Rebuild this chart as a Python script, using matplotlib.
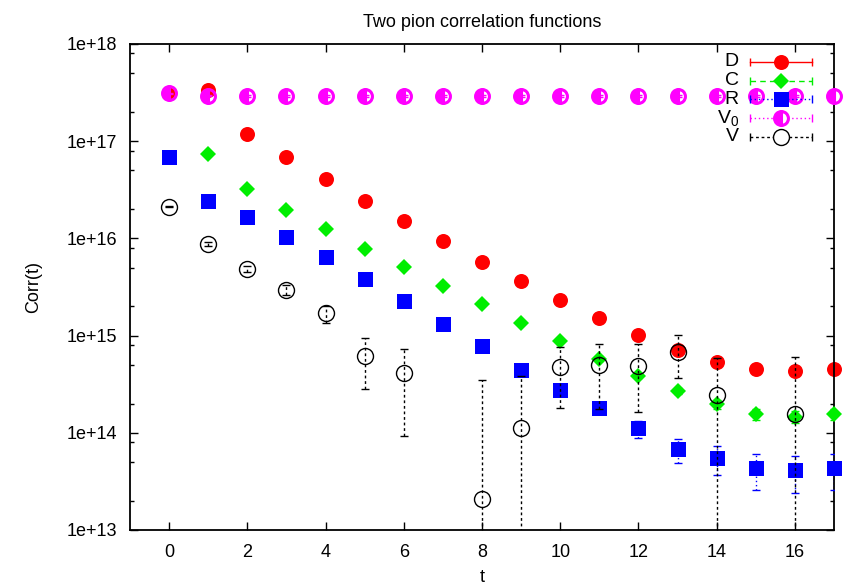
import numpy as np
import matplotlib
matplotlib.use('Agg')
import matplotlib.pyplot as plt

plt.rcParams['font.family'] = ['Liberation Sans', 'DejaVu Sans']
plt.rcParams['mathtext.fontset'] = 'custom'
plt.rcParams['mathtext.rm'] = 'Liberation Sans'
plt.rcParams['mathtext.it'] = 'Liberation Sans'
plt.rcParams['mathtext.default'] = 'regular'

# 数据
t = np.arange(18)

D = np.array([3.1e17, 3.4e17, 1.2e17, 6.8e16, 4.06e16, 2.44e16, 1.51e16, 9.4e15, 5.7e15,
              3.62e15, 2.31e15, 1.5e15, 1.02e15, 7.1e14, 5.4e14, 4.5e14, 4.3e14, 4.5e14])
D_err = np.array([2e15, 2e15, 1e15, 6e14, 4e14, 3e14, 2e14, 1.5e14, 1e14,
                  8e13, 6e13, 5e13, 4e13, 4e13, 3e13, 3e13, 3e13, 3e13])

C = np.array([np.nan, 7.3e16, 3.25e16, 1.96e16, 1.24e16, 7.8e15, 5.1e15, 3.26e15, 2.1e15,
              1.35e15, 8.9e14, 5.8e14, 3.87e14, 2.7e14, 1.96e14, 1.56e14, 1.47e14, 1.56e14])
C_err = np.array([0, 5e14, 3e14, 2e14, 1.5e14, 1e14, 8e13, 6e13, 5e13,
                  4e13, 3e13, 3e13, 2.5e13, 2e13, 2e13, 2e13, 2e13, 2e13])

R = np.array([6.8e16, 2.41e16, 1.65e16, 1.03e16, 6.4e15, 3.8e15, 2.25e15, 1.31e15, 7.9e14,
              4.4e14, 2.74e14, 1.79e14, 1.11e14, 6.8e13, 5.5e13, 4.3e13, 4.1e13, 4.3e13])
R_err = np.array([5e14, 3e14, 2e14, 1.5e14, 1e14, 8e13, 6e13, 4e13, 3e13,
                  2.5e13, 2.2e13, 2.2e13, 2.2e13, 1.9e13, 1.85e13, 1.7e13, 1.67e13, 1.7e13])

V0 = np.array([3.1e17, 2.94e17, 2.92e17, 2.92e17, 2.92e17, 2.92e17, 2.92e17, 2.92e17, 2.92e17,
               2.92e17, 2.92e17, 2.92e17, 2.92e17, 2.92e17, 2.92e17, 2.92e17, 2.92e17, 2.92e17])
V0_err = np.array([4e15, 4e15, 4e15, 4e15, 4e15, 4e15, 4e15, 4e15, 4e15,
                   4e15, 4e15, 4e15, 4e15, 4e15, 4e15, 4e15, 4e15, 4e15])

V = np.array([2.12e16, 8.76e15, 4.85e15, 2.95e15, 1.7e15, 6.2e14, 4.12e14, np.nan, 2.1e13,
              1.13e14, 4.75e14, 4.99e14, 4.9e14, 6.83e14, 2.45e14, np.nan, 1.56e14, np.nan])
V_err = np.array([3.3e14, 3.3e14, 3.3e14, 3.3e14, 3.4e14, 3.35e14, 3.2e14, 0, 3.28e14,
                  2.68e14, 2.93e14, 3.25e14, 3.28e14, 3.2e14, 3.4e14, 0, 4.5e14, 0])

labels = ['D', 'C', 'R', 'V$_0$', 'V']
ytick_vals = [1e13, 1e14, 1e15, 1e16, 1e17, 1e18]
ytick_labels = ['1e+13', '1e+14', '1e+15', '1e+16', '1e+17', '1e+18']

series = [
    # y, err, colour, linestyle, marker, size, face, edge width
    (D, D_err, 'red', '-', 'o', 10.8, 'full', 1.0),
    (C, C_err, '#00ee00', (0, (4, 3)), 'D', 8.2, 'full', 1.0),
    (R, R_err, 'blue', (0, (1, 2)), 's', 10.8, 'full', 1.0),
    (V0, V0_err, 'magenta', (0, (1, 2)), 'o', 10.0, 'left', 2.2),
    (V, V_err, 'black', (0, (2, 2)), 'o', 11.5, 'none', 1.0),
]

fig = plt.figure(figsize=(8.5, 5.86), dpi=100)
ax = fig.add_axes([130/850, 56/586, 704/850, 486/586])
ax.set_yscale('log', nonpositive='clip')

for i, (y, err, col, ls, mk, ms, fs, mew) in enumerate(series):
    z = 2 + i
    eb = ax.errorbar(t, y, yerr=err, fmt='none', ecolor=col, elinewidth=1.0,
                     capsize=3, capthick=1.0, zorder=z)
    for lc in eb[2]:
        lc.set_linestyle(ls)
    if fs == 'left':
        ax.plot(t, y, linestyle='none', marker=mk, markersize=ms, fillstyle='left',
                markerfacecolor=col, markerfacecoloralt='none', markeredgecolor=col,
                markeredgewidth=mew, clip_on=False, zorder=z)
    elif fs == 'none':
        ax.plot(t, y, linestyle='none', marker=mk, markersize=ms, markerfacecolor='none',
                markeredgecolor=col, markeredgewidth=mew, clip_on=False, zorder=z)
    else:
        ax.plot(t, y, linestyle='none', marker=mk, markersize=ms, color=col,
                markeredgewidth=0, clip_on=False, zorder=z)

    # legend entry, gnuplot style
    ly = 0.963 - i * 0.0385
    ax.plot([0.881, 0.969], [ly, ly], transform=ax.transAxes, color=col, lw=1.0,
            linestyle=ls, clip_on=False, zorder=10)
    ax.plot([0.881, 0.969], [ly, ly], transform=ax.transAxes, color=col, lw=1.0,
            linestyle='none', marker='|', markersize=6, clip_on=False, zorder=10)
    if fs == 'left':
        ax.plot([0.925], [ly], transform=ax.transAxes, marker=mk, markersize=ms,
                fillstyle='left', markerfacecolor=col, markerfacecoloralt='white',
                markeredgecolor=col, markeredgewidth=mew, clip_on=False, zorder=11)
    elif fs == 'none':
        ax.plot([0.925], [ly], transform=ax.transAxes, marker=mk, markersize=ms,
                markerfacecolor='white', markeredgecolor=col, markeredgewidth=mew,
                clip_on=False, zorder=11)
    else:
        ax.plot([0.925], [ly], transform=ax.transAxes, marker=mk, markersize=ms,
                color=col, markeredgewidth=0, clip_on=False, zorder=11)
    ax.text(0.865, ly, labels[i], transform=ax.transAxes, ha='right', va='center',
            fontsize=14, zorder=11)

ax.set_xlim(-1, 17)
ax.set_ylim(1e13, 1e18)
ax.set_xticks(np.arange(0, 17, 2))
ax.set_yticks(ytick_vals)
ax.set_yticklabels(ytick_labels)
minor = [m * 10.0**e for e in range(13, 18) for m in (2, 5, 8)]
ax.set_yticks(minor, minor=True)
ax.set_yticklabels([], minor=True)
ax.tick_params(which='both', direction='in', top=True, right=True, labelsize=13,
               width=1.0)
ax.tick_params(which='major', length=5.5)
ax.tick_params(which='minor', length=3)
ax.tick_params(axis='y', pad=9)
ax.tick_params(axis='x', pad=10)
for s in ax.spines.values():
    s.set_linewidth(1.3)

ax.set_xlabel('t', fontsize=13, labelpad=6)
ax.set_ylabel('Corr(t)', fontsize=13, labelpad=18)
ax.set_title('Two pion correlation functions', fontsize=13, pad=12)

fig.savefig('out.png', dpi=100)
